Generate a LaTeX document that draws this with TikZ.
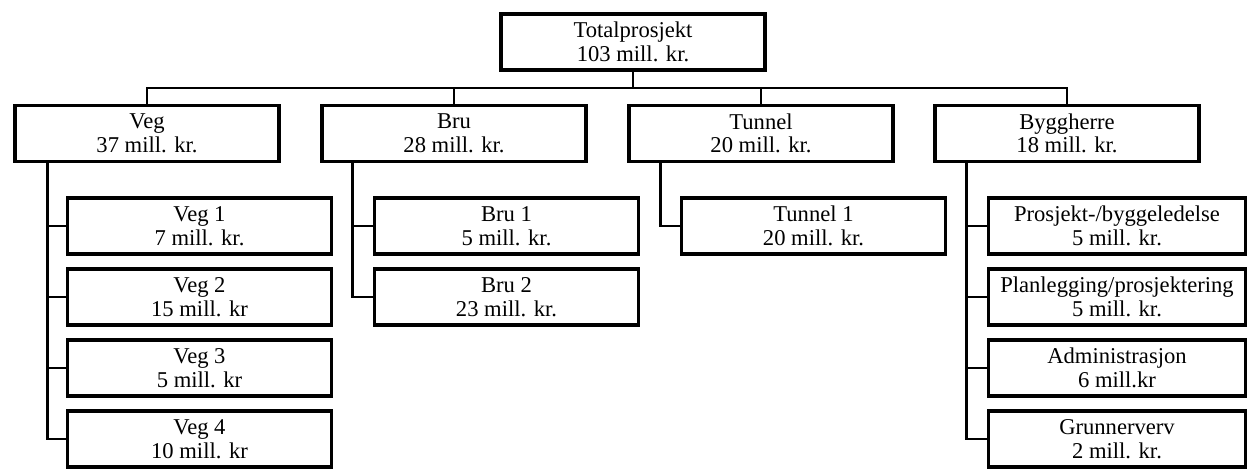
\documentclass[tikz,border=0pt]{standalone}
\usepackage{fontspec}
\setmainfont{Liberation Serif}
\usetikzlibrary{positioning}
\tikzset{box/.style={draw, line width=1.7pt, minimum width=132pt, minimum height=28pt, inner sep=0pt, align=center, font=\fontsize{11.3}{11.8}\selectfont}}
\tikzset{post/.style={box, minimum width=128.5pt}}
\tikzset{lnk/.style={line width=1.4pt}}

\begin{document}
\begin{tikzpicture}[x=0.5pt, y=-0.5pt, node distance=5.8pt]
\useasboundingbox (0,0) rectangle (1248,468);
\draw node[box](tot) at (633,42) {Totalprosjekt\\103 mill. kr.};
\draw node[box](veg) at (147,133.5) {Veg\\37 mill. kr.};
\draw node[box](bru) at (454,133.5) {Bru\\28 mill. kr.};
\draw node[box](tun) at (761,133.5) {Tunnel\\20 mill. kr.};
\draw node[box](bygg) at (1067,133.5) {Byggherre\\18 mill. kr.};

\draw node[box](veg1) at (199.5,226) {Veg 1\\7 mill. kr.};
\draw node[box](veg2) [below=of veg1] {Veg 2\\15 mill. kr};
\draw node[box](veg3) [below=of veg2] {Veg 3\\5 mill. kr};
\draw node[box](veg4) [below=of veg3] {Veg 4\\10 mill. kr};

\draw node[box](bru1) at (506.5,226) {Bru 1\\5 mill. kr.};
\draw node[box](bru2) [below=of bru1] {Bru 2\\23 mill. kr.};

\draw node[box](tun1) at (813.5,226) {Tunnel 1\\20 mill. kr.};

\draw node[post](bh1) at (1117,226) {Prosjekt-/byggeledelse\\5 mill. kr.};
\draw node[post](bh2) [below=of bh1] {Planlegging/prosjektering\\5 mill. kr.};
\draw node[post](bh3) [below=of bh2] {Administrasjon\\6 mill.kr};
\draw node[post](bh4) [below=of bh3] {Grunnerverv\\2 mill. kr.};

\coordinate (bus) at (633,88);
\draw[lnk] (tot) -- (bus);
\foreach \n in {veg,bru,tun,bygg}
  \draw[lnk] (bus -| veg.north) -- (bus -| bygg.north) (bus) -| (\n.north);

\coordinate (vegt) at ([xshift=17pt]veg.south west);
\coordinate (brut) at ([xshift=16pt]bru.south west);
\coordinate (tunt) at ([xshift=16.5pt]tun.south west);
\coordinate (byggt) at ([xshift=16.5pt]bygg.south west);
\foreach \c in {veg1,veg2,veg3,veg4} \draw[lnk] (vegt) |- (\c.west);
\foreach \c in {bru1,bru2} \draw[lnk] (brut) |- (\c.west);
\draw[lnk] (tunt) |- (tun1.west);
\foreach \c in {bh1,bh2,bh3,bh4} \draw[lnk] (byggt) |- (\c.west);
\end{tikzpicture}
\end{document}
